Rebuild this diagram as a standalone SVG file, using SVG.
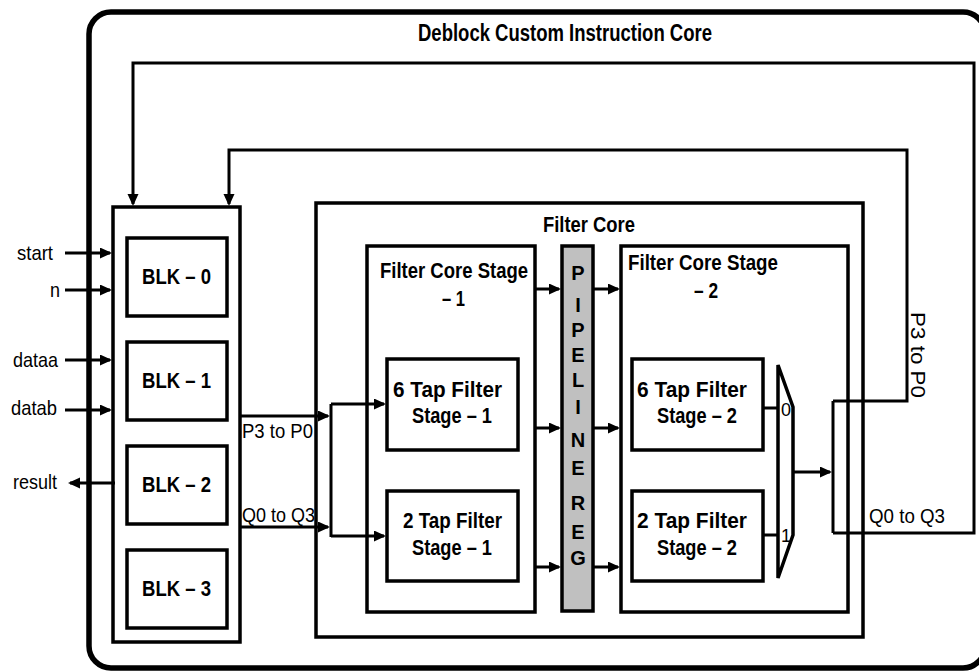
<svg xmlns="http://www.w3.org/2000/svg" width="979" height="671" viewBox="0 0 979 671">
<style>
.box{fill:#fff;stroke:#000;stroke-width:3.5}
.ln{fill:none;stroke:#000;stroke-width:3}
.arr{fill:none;stroke:#000;stroke-width:3;marker-end:url(#ah)}
.b{font-family:"Liberation Sans",Arial,sans-serif;font-weight:bold;fill:#000}
.r{font-family:"Liberation Sans",Arial,sans-serif;fill:#000}
</style>
<defs>
<marker id="ah" markerUnits="userSpaceOnUse" markerWidth="14" markerHeight="12" refX="10" refY="5.5" orient="auto">
<path d="M0,0 L12,5.5 L0,11 z" fill="#000"/>
</marker>
</defs>
<rect width="979" height="671" fill="#fff"/>
<g id="deblock-core">
<rect x="89" y="12" width="896" height="656" rx="22" ry="22" fill="none" stroke="#000" stroke-width="5.5"/>
<text class="b" x="418" y="41" font-size="23" textLength="294" lengthAdjust="spacingAndGlyphs">Deblock Custom Instruction Core</text>
</g>
<g id="blk-container">
<rect class="box" x="113" y="207" width="127" height="435"/>
</g>
<g id="blk0"><rect class="box" x="127" y="238" width="100" height="78"/><text class="b" x="142" y="284" font-size="22" textLength="69" lengthAdjust="spacingAndGlyphs">BLK – 0</text></g>
<g id="blk1"><rect class="box" x="127" y="342" width="100" height="78"/><text class="b" x="142" y="388" font-size="22" textLength="69" lengthAdjust="spacingAndGlyphs">BLK – 1</text></g>
<g id="blk2"><rect class="box" x="127" y="446" width="100" height="78"/><text class="b" x="142" y="492" font-size="22" textLength="69" lengthAdjust="spacingAndGlyphs">BLK – 2</text></g>
<g id="blk3"><rect class="box" x="127" y="550" width="100" height="78"/><text class="b" x="142" y="596" font-size="22" textLength="69" lengthAdjust="spacingAndGlyphs">BLK – 3</text></g>
<g id="filter-core">
<rect class="box" x="316" y="203" width="547" height="434"/>
<text class="b" x="543" y="232" font-size="22" textLength="92" lengthAdjust="spacingAndGlyphs">Filter Core</text>
</g>
<g id="stage1">
<rect class="box" x="367" y="246" width="168" height="366"/>
<text class="b" x="380" y="278" font-size="22" textLength="148" lengthAdjust="spacingAndGlyphs">Filter Core Stage</text>
<text class="b" x="442" y="306" font-size="22" textLength="23" lengthAdjust="spacingAndGlyphs">– 1</text>
</g>
<g id="tap6-stage1">
<rect class="box" x="387" y="359" width="131" height="91"/>
<text class="b" x="393" y="397" font-size="22" textLength="109" lengthAdjust="spacingAndGlyphs">6 Tap Filter</text>
<text class="b" x="412" y="423" font-size="22" textLength="80" lengthAdjust="spacingAndGlyphs">Stage – 1</text>
</g>
<g id="tap2-stage1">
<rect class="box" x="387" y="491" width="131" height="90"/>
<text class="b" x="403" y="528" font-size="22" textLength="99" lengthAdjust="spacingAndGlyphs">2 Tap Filter</text>
<text class="b" x="412" y="555" font-size="22" textLength="80" lengthAdjust="spacingAndGlyphs">Stage – 1</text>
</g>
<g id="pipeline-reg">
<rect x="562" y="246" width="31" height="365" fill="#c0c0c0" stroke="#000" stroke-width="3.5"/>
<g class="b" font-size="20" text-anchor="middle">
<text x="578" y="280">P</text>
<text x="578" y="312">I</text>
<text x="578" y="337">P</text>
<text x="578" y="362">E</text>
<text x="578" y="387">L</text>
<text x="578" y="414">I</text>
<text x="578" y="447">N</text>
<text x="578" y="475">E</text>
<text x="578" y="510">R</text>
<text x="578" y="539">E</text>
<text x="578" y="565">G</text>
</g>
</g>
<g id="stage2">
<rect class="box" x="621" y="246" width="227" height="366"/>
<text class="b" x="628" y="270" font-size="22" textLength="150" lengthAdjust="spacingAndGlyphs">Filter Core Stage</text>
<text class="b" x="694" y="298" font-size="22" textLength="24" lengthAdjust="spacingAndGlyphs">– 2</text>
</g>
<g id="tap6-stage2">
<rect class="box" x="632" y="359" width="131" height="91"/>
<text class="b" x="637" y="397" font-size="22" textLength="110" lengthAdjust="spacingAndGlyphs">6 Tap Filter</text>
<text class="b" x="657" y="423" font-size="22" textLength="80" lengthAdjust="spacingAndGlyphs">Stage – 2</text>
</g>
<g id="tap2-stage2">
<rect class="box" x="632" y="491" width="131" height="90"/>
<text class="b" x="637" y="528" font-size="22" textLength="110" lengthAdjust="spacingAndGlyphs">2 Tap Filter</text>
<text class="b" x="657" y="555" font-size="22" textLength="80" lengthAdjust="spacingAndGlyphs">Stage – 2</text>
</g>
<g id="mux">
<polygon points="778,365 793,407 793,535 778,578" fill="#fff" stroke="#000" stroke-width="3.5"/>
<text class="r" x="781" y="416" font-size="18">0</text>
<text class="r" x="781" y="542" font-size="18">1</text>
</g>
<g id="connectors">
<path class="arr" d="M65,253 H110"/>
<path class="arr" d="M65,290 H110"/>
<path class="arr" d="M65,360 H110"/>
<path class="arr" d="M65,410 H110"/>
<path class="arr" d="M115,483 H70"/>
<path class="arr" d="M240,416 H328"/>
<path class="arr" d="M240,527 H328"/>
<path class="ln" d="M331,404 V537"/>
<path class="arr" d="M331,404 H384"/>
<path class="arr" d="M331,536 H384"/>
<path class="arr" d="M535,289 H559"/>
<path class="arr" d="M535,428 H559"/>
<path class="arr" d="M535,567 H559"/>
<path class="arr" d="M593,289 H618"/>
<path class="arr" d="M593,428 H618"/>
<path class="arr" d="M593,567 H618"/>
<path class="ln" d="M763,408 H778"/>
<path class="ln" d="M763,535 H778"/>
<path class="arr" d="M793,472 H830"/>
<path class="ln" d="M833,401 V533"/>
<path class="arr" d="M833,401 H907 V150 H229 V204"/>
<path class="arr" d="M833,533 H974 V63 H133 V204"/>
</g>
<g id="labels">
<text class="r" x="17" y="260" font-size="21" textLength="36" lengthAdjust="spacingAndGlyphs">start</text>
<text class="r" x="50" y="297" font-size="21" textLength="10" lengthAdjust="spacingAndGlyphs">n</text>
<text class="r" x="13" y="367" font-size="21" textLength="45" lengthAdjust="spacingAndGlyphs">dataa</text>
<text class="r" x="11" y="415" font-size="21" textLength="46" lengthAdjust="spacingAndGlyphs">datab</text>
<text class="r" x="13" y="489" font-size="21" textLength="44" lengthAdjust="spacingAndGlyphs">result</text>
<text class="r" x="242" y="438" font-size="21" textLength="71" lengthAdjust="spacingAndGlyphs">P3 to P0</text>
<text class="r" x="242" y="522" font-size="21" textLength="73" lengthAdjust="spacingAndGlyphs">Q0 to Q3</text>
<text class="r" x="869" y="523" font-size="21" textLength="76" lengthAdjust="spacingAndGlyphs">Q0 to Q3</text>
<text class="r" transform="translate(911,312) rotate(90)" x="0" y="0" font-size="21" textLength="86" lengthAdjust="spacingAndGlyphs">P3 to P0</text>
</g>
</svg>
